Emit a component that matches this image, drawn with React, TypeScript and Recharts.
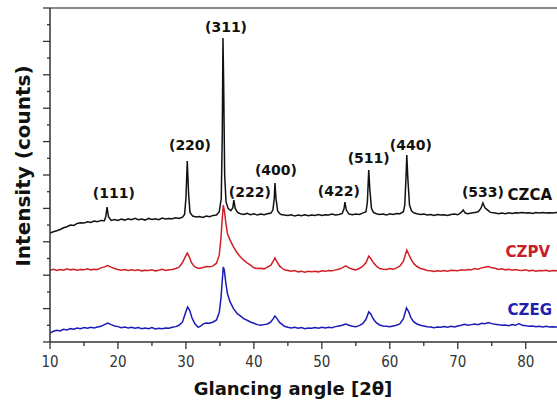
import { LineChart, Line, XAxis, YAxis, ReferenceLine, ReferenceDot } from "recharts";

// glancing angle (2θ) vs intensity, offsets already applied (y axis has no units shown)
const czca: [number, number][] = [
  [10, 3.26], [10.5, 3.3], [11, 3.33], [11.5, 3.37], [12, 3.42], [12.5, 3.45], [13, 3.5], [13.5, 3.49],
  [14, 3.55], [14.5, 3.57], [15, 3.56], [15.5, 3.6], [16, 3.58], [16.5, 3.62], [17, 3.6], [17.5, 3.64],
  [18, 3.63], [18.2, 3.75], [18.4, 4.04], [18.6, 3.75], [19, 3.64], [19.5, 3.67], [20, 3.64], [20.5, 3.68],
  [21, 3.65], [21.5, 3.69], [22, 3.66], [22.5, 3.7], [23, 3.66], [23.5, 3.68], [24, 3.65], [24.5, 3.7],
  [25, 3.67], [25.5, 3.69], [26, 3.66], [26.5, 3.71], [27, 3.68], [27.5, 3.7], [28, 3.69], [28.5, 3.72],
  [29, 3.7], [29.5, 3.74], [29.8, 3.82], [30.0, 4.3], [30.2, 5.42], [30.4, 4.4], [30.6, 3.88], [31, 3.77],
  [31.5, 3.74], [32, 3.76], [32.5, 3.73], [33, 3.77], [33.5, 3.75], [34, 3.79], [34.5, 3.8], [34.9, 3.9],
  [35.2, 4.3], [35.35, 6.2], [35.45, 9.1], [35.55, 7.8], [35.7, 5.0], [35.9, 4.2], [36.2, 4.0], [36.6, 3.93],
  [36.9, 4.02], [37.05, 4.25], [37.25, 4.0], [37.6, 3.88], [38, 3.84], [38.5, 3.82], [39, 3.85], [39.5, 3.81],
  [40, 3.84], [40.5, 3.8], [41, 3.83], [41.5, 3.81], [42, 3.84], [42.5, 3.86], [42.8, 3.95], [43.0, 4.3],
  [43.1, 4.76], [43.25, 4.3], [43.5, 3.92], [43.8, 3.84], [44, 3.82], [44.5, 3.8], [45, 3.79], [45.5, 3.81],
  [46, 3.77], [46.5, 3.8], [47, 3.78], [47.5, 3.81], [48, 3.78], [48.5, 3.8], [49, 3.79], [49.5, 3.82],
  [50, 3.79], [50.5, 3.81], [51, 3.8], [51.5, 3.83], [52, 3.8], [52.5, 3.82], [53, 3.85], [53.25, 3.98],
  [53.4, 4.19], [53.6, 3.95], [54, 3.83], [54.5, 3.81], [55, 3.83], [55.5, 3.82], [56, 3.86], [56.5, 3.9],
  [56.7, 4.2], [56.9, 5.15], [57.05, 4.6], [57.3, 4.0], [57.6, 3.88], [58, 3.84], [58.5, 3.82], [59, 3.83],
  [59.5, 3.8], [60, 3.84], [60.5, 3.82], [61, 3.85], [61.5, 3.84], [62, 3.9], [62.2, 4.1], [62.4, 5.0],
  [62.5, 5.6], [62.65, 4.9], [62.9, 4.1], [63.2, 3.92], [63.6, 3.86], [64, 3.84], [64.5, 3.82], [65, 3.83],
  [65.5, 3.8], [66, 3.82], [66.5, 3.79], [67, 3.82], [67.5, 3.8], [68, 3.81], [68.5, 3.79], [69, 3.82],
  [69.5, 3.83], [70, 3.81], [70.5, 3.88], [70.8, 3.95], [71.1, 3.86], [71.5, 3.84], [72, 3.86], [72.5, 3.88],
  [73, 3.9], [73.4, 4.0], [73.7, 4.16], [74, 4.02], [74.4, 3.95], [74.8, 3.88], [75.5, 3.86], [76, 3.84],
  [76.5, 3.86], [77, 3.84], [77.5, 3.87], [78, 3.85], [78.5, 3.87], [79, 3.86], [79.5, 3.88], [80, 3.86],
  [80.5, 3.87], [81, 3.85], [81.5, 3.88], [82, 3.86], [82.5, 3.88], [83, 3.86], [83.5, 3.87], [84, 3.86],
  [84.5, 3.88], [85, 3.87],
];

const czpv: [number, number][] = [
  [10, 2.15], [10.5, 2.18], [11, 2.14], [11.5, 2.17], [12, 2.15], [12.5, 2.19], [13, 2.16], [13.5, 2.18],
  [14, 2.15], [14.5, 2.17], [15, 2.16], [15.5, 2.19], [16, 2.16], [16.5, 2.18], [17, 2.17], [17.5, 2.22],
  [18, 2.25], [18.5, 2.29], [19, 2.24], [19.5, 2.2], [20, 2.17], [20.5, 2.15], [21, 2.17], [21.5, 2.14],
  [22, 2.16], [22.5, 2.14], [23, 2.16], [23.5, 2.13], [24, 2.15], [24.5, 2.14], [25, 2.16], [25.5, 2.13],
  [26, 2.15], [26.5, 2.18], [27, 2.14], [27.5, 2.16], [28, 2.17], [28.5, 2.2], [29, 2.24], [29.5, 2.38],
  [29.9, 2.55], [30.2, 2.66], [30.5, 2.55], [30.8, 2.38], [31.2, 2.27], [31.6, 2.22], [32, 2.2], [32.5, 2.23],
  [33, 2.26], [33.5, 2.25], [34, 2.28], [34.5, 2.36], [34.9, 2.6], [35.15, 3.1], [35.35, 3.7], [35.5, 4.1],
  [35.65, 3.95], [35.85, 3.6], [36.1, 3.25], [36.5, 3.05], [37, 2.85], [37.5, 2.68], [38, 2.55], [38.5, 2.45],
  [39, 2.37], [39.5, 2.3], [40, 2.22], [40.5, 2.2], [41, 2.21], [41.5, 2.19], [42, 2.24], [42.5, 2.3],
  [42.85, 2.42], [43.1, 2.52], [43.4, 2.4], [43.8, 2.27], [44.2, 2.2], [44.5, 2.16], [45, 2.14], [45.5, 2.12],
  [46, 2.14], [46.5, 2.1], [47, 2.12], [47.5, 2.09], [48, 2.12], [48.5, 2.1], [49, 2.12], [49.5, 2.1],
  [50, 2.13], [50.5, 2.12], [51, 2.14], [51.5, 2.13], [52, 2.16], [52.5, 2.18], [53, 2.22], [53.5, 2.28],
  [54, 2.22], [54.5, 2.18], [55, 2.16], [55.5, 2.2], [56, 2.26], [56.5, 2.38], [56.9, 2.57], [57.2, 2.5],
  [57.6, 2.37], [58, 2.28], [58.5, 2.2], [59, 2.18], [59.5, 2.17], [60, 2.2], [60.5, 2.18], [61, 2.22],
  [61.5, 2.28], [62, 2.42], [62.5, 2.75], [62.8, 2.62], [63.2, 2.45], [63.6, 2.33], [64, 2.26], [64.5, 2.2],
  [65, 2.18], [65.5, 2.14], [66, 2.13], [66.5, 2.11], [67, 2.13], [67.5, 2.12], [68, 2.14], [68.5, 2.12],
  [69, 2.15], [69.5, 2.14], [70, 2.13], [70.5, 2.16], [71, 2.15], [71.5, 2.17], [72, 2.16], [72.5, 2.2],
  [73, 2.18], [73.5, 2.22], [74, 2.24], [74.5, 2.26], [75, 2.22], [75.5, 2.21], [76, 2.17], [76.5, 2.19],
  [77, 2.16], [77.5, 2.18], [78, 2.15], [78.5, 2.17], [79, 2.15], [79.5, 2.14], [80, 2.16], [80.5, 2.13],
  [81, 2.15], [81.5, 2.12], [82, 2.14], [82.5, 2.13], [83, 2.15], [83.5, 2.12], [84, 2.14], [84.5, 2.13],
  [85, 2.14],
];

const czeg: [number, number][] = [
  [10, 0.27], [10.5, 0.32], [11, 0.35], [11.5, 0.33], [12, 0.38], [12.5, 0.36], [13, 0.4], [13.5, 0.38],
  [14, 0.42], [14.5, 0.4], [15, 0.43], [15.5, 0.41], [16, 0.44], [16.5, 0.42], [17, 0.45], [17.5, 0.47],
  [18, 0.52], [18.5, 0.57], [19, 0.52], [19.5, 0.48], [20, 0.46], [20.5, 0.43], [21, 0.45], [21.5, 0.42],
  [22, 0.44], [22.5, 0.41], [23, 0.43], [23.5, 0.4], [24, 0.42], [24.5, 0.4], [25, 0.43], [25.5, 0.39],
  [26, 0.41], [26.5, 0.4], [27, 0.42], [27.5, 0.41], [28, 0.44], [28.5, 0.46], [29, 0.5], [29.5, 0.6],
  [29.9, 0.85], [30.25, 1.05], [30.55, 0.95], [30.9, 0.72], [31.3, 0.55], [31.8, 0.44], [32.2, 0.48], [32.6, 0.55],
  [33, 0.57], [33.5, 0.56], [34, 0.6], [34.5, 0.66], [34.9, 0.88], [35.15, 1.3], [35.35, 1.85], [35.5, 2.25],
  [35.65, 2.15], [35.85, 1.8], [36.1, 1.45], [36.5, 1.2], [37, 1.0], [37.5, 0.86], [38, 0.78], [38.5, 0.7],
  [39, 0.65], [39.5, 0.6], [40, 0.56], [40.5, 0.52], [41, 0.5], [41.5, 0.52], [42, 0.54], [42.5, 0.6],
  [42.85, 0.7], [43.1, 0.78], [43.4, 0.7], [43.8, 0.58], [44.2, 0.52], [44.5, 0.47], [45, 0.44], [45.5, 0.42],
  [46, 0.44], [46.5, 0.41], [47, 0.43], [47.5, 0.4], [48, 0.42], [48.5, 0.41], [49, 0.43], [49.5, 0.41],
  [50, 0.44], [50.5, 0.42], [51, 0.44], [51.5, 0.43], [52, 0.46], [52.5, 0.48], [53, 0.5], [53.5, 0.54],
  [54, 0.5], [54.5, 0.47], [55, 0.46], [55.5, 0.49], [56, 0.55], [56.5, 0.68], [56.9, 0.9], [57.2, 0.84],
  [57.6, 0.68], [58, 0.58], [58.5, 0.51], [59, 0.48], [59.5, 0.47], [60, 0.46], [60.5, 0.48], [61, 0.5],
  [61.5, 0.55], [62, 0.7], [62.45, 1.02], [62.75, 0.92], [63.1, 0.73], [63.5, 0.61], [64, 0.54], [64.5, 0.5],
  [65, 0.48], [65.5, 0.46], [66, 0.45], [66.5, 0.43], [67, 0.45], [67.5, 0.44], [68, 0.46], [68.5, 0.44],
  [69, 0.47], [69.5, 0.45], [70, 0.48], [70.5, 0.5], [71, 0.53], [71.5, 0.5], [72, 0.52], [72.5, 0.54],
  [73, 0.52], [73.5, 0.56], [74, 0.55], [74.5, 0.58], [75, 0.55], [75.5, 0.53], [76, 0.52], [76.5, 0.5],
  [77, 0.51], [77.5, 0.49], [78, 0.52], [78.5, 0.5], [79, 0.55], [79.5, 0.5], [80, 0.49], [80.5, 0.47],
  [81, 0.48], [81.5, 0.46], [82, 0.47], [82.5, 0.45], [83, 0.47], [83.5, 0.45], [84, 0.46], [84.5, 0.45],
  [85, 0.46],
];

const xTicks = [10, 15, 20, 25, 30, 35, 40, 45, 50, 55, 60, 65, 70, 75, 80];
const yTicks = [0, 0.5, 1, 1.5, 2, 2.5, 3, 3.5, 4, 4.5, 5, 5.5, 6, 6.5, 7, 7.5, 8, 8.5, 9, 9.5, 10];

const peakNames = ["(111)", "(220)", "(311)", "(222)", "(400)", "(422)", "(511)", "(440)", "(533)"];
const peakAngles = [19.4, 30.6, 35.9, 39.4, 43.25, 52.5, 56.9, 63.1, 73.7];
const peakLevels = [4.46, 5.9, 9.42, 4.49, 5.15, 4.51, 5.51, 5.9, 4.49];

const sampleNames = ["CZCA", "CZPV", "CZEG"];
const sampleAngles = [80.6, 80.3, 80.6];
const sampleLevels = [4.4, 2.69, 0.96];

const colors = ["#111111", "#d01f26", "#1b1bb8"];
const labelColors = ["#111111", "#c8202a", "#1f1fb0"];
const axisColor = "#333";

const toRows = (pts: [number, number][]) => pts.map(([x, y]) => ({ x, y }));

const XTick = (props: any) => {
  const { x, y, payload } = props;
  const major = payload.value % 10 === 0;
  return (
    <g>
      <line x1={x} x2={x} y1={y} y2={y + (major ? 7 : 4)} stroke={axisColor} strokeWidth={1.3} />
      {major && (
        <text x={x} y={y + 25} textAnchor="middle" fontSize={15} fill="#333"
          fontFamily="'DejaVu Sans Condensed', 'DejaVu Sans', sans-serif">
          {payload.value}
        </text>
      )}
    </g>
  );
};

const YTick = (props: any) => {
  const { x, y, payload } = props;
  const major = payload.value % 1 === 0;
  return <line x1={x - (major ? 7 : 3)} x2={x} y1={y} y2={y} stroke={axisColor} strokeWidth={1.3} />;
};

const TextMark = (props: any) => (
  <text x={props.cx} y={props.cy} textAnchor="middle" dominantBaseline="central"
    fontSize={props.size} fontWeight="bold" fill={props.color}
    fontFamily="'DejaVu Sans', Verdana, sans-serif">
    {props.text}
  </text>
);

export default function App() {
  const series = [czca, czpv, czeg];
  return (
    <div style={{ position: "absolute", left: 0, top: 0, width: 557, height: 403, overflow: "hidden", background: "#fff" }}>
      <LineChart width={557} height={403} margin={{ top: 8, right: 0, bottom: 31, left: 0 }}>
        <XAxis type="number" dataKey="x" domain={[10, 84.6]} allowDataOverflow ticks={xTicks} interval={0}
          tickSize={0} tickMargin={0} tickLine={false} tick={<XTick />} height={30}
          axisLine={{ stroke: axisColor, strokeWidth: 1.5 }} />
        <YAxis type="number" domain={[0, 10]} allowDataOverflow ticks={yTicks} interval={0} width={50}
          tickSize={0} tickMargin={0} tickLine={false} tick={<YTick />}
          axisLine={{ stroke: axisColor, strokeWidth: 1.5 }} />
        <ReferenceLine y={10} stroke="#8a8a8a" strokeWidth={2} />
        {series.map((s, i) => (
          <Line key={sampleNames[i]} data={toRows(s)} dataKey="y" type="linear" stroke={colors[i]}
            strokeWidth={1.5} dot={false} isAnimationActive={false} />
        ))}
        {peakNames.map((name, i) => (
          <ReferenceDot key={name} x={peakAngles[i]} y={peakLevels[i]} r={1} ifOverflow="visible"
            shape={(p: any) => <TextMark {...p} text={name} size={14} color="#111" />} />
        ))}
        {sampleNames.map((name, i) => (
          <ReferenceDot key={name} x={sampleAngles[i]} y={sampleLevels[i]} r={1} ifOverflow="visible"
            shape={(p: any) => <TextMark {...p} text={name} size={15} color={labelColors[i]} />} />
        ))}
      </LineChart>
      <div style={{
        position: "absolute", left: 23 - 130, top: 166 - 14, width: 260, height: 28, lineHeight: "28px",
        textAlign: "center", transform: "rotate(-90deg)", fontFamily: "'DejaVu Sans', Verdana, sans-serif",
        fontWeight: "bold", fontSize: 20, color: "#111",
      }}>
        Intensity (counts)
      </div>
      <div style={{
        position: "absolute", left: 293 - 150, top: 389 - 13, width: 300, height: 26, lineHeight: "26px",
        textAlign: "center", fontFamily: "'DejaVu Sans', Verdana, sans-serif",
        fontWeight: "bold", fontSize: 18, color: "#111",
      }}>
        Glancing angle [2θ]
      </div>
    </div>
  );
}
